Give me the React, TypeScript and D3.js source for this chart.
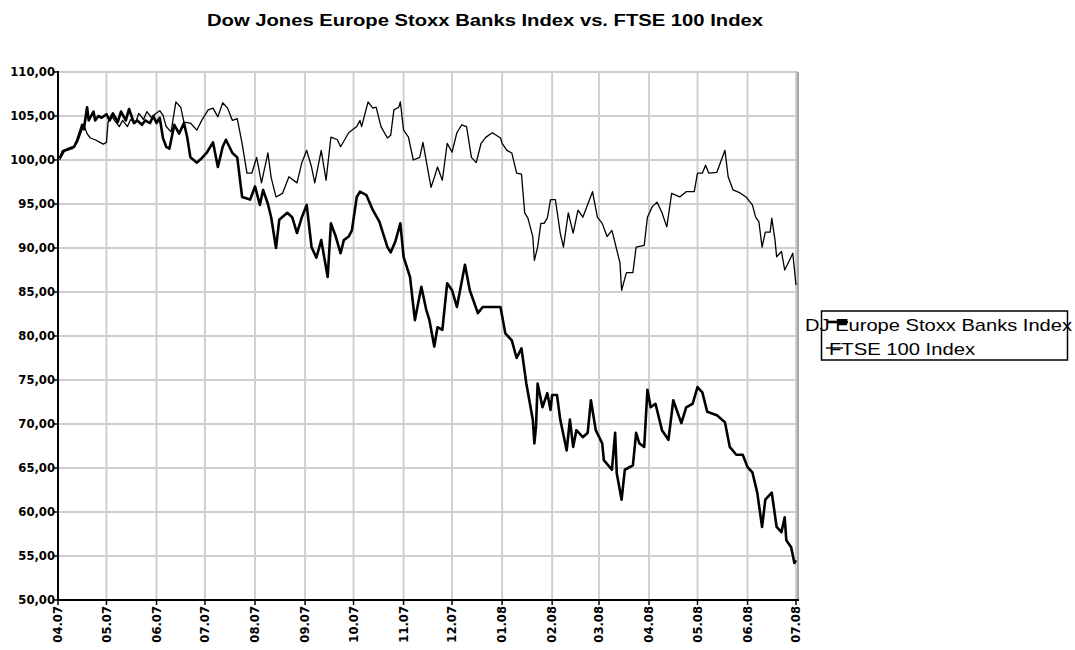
import React from "react";
import * as d3 from "d3";

const titleText = "Dow Jones Europe Stoxx Banks Index vs. FTSE 100 Index";
const seriesNames = ["DJ Europe Stoxx Banks Index", "FTSE 100 Index"];
const yTicks = [50, 55, 60, 65, 70, 75, 80, 85, 90, 95, 100, 105, 110];
const xStart = "2007-04-01";
const xEnd = "2008-07-01";

const djBanks: [string, number][] = [
  ["2007-04-02",100.2],["2007-04-04",101.0],["2007-04-08",101.3],["2007-04-11",101.5],["2007-04-13",102.3],["2007-04-16",104.0],["2007-04-17",103.5],["2007-04-19",106.0],["2007-04-20",104.5],["2007-04-23",105.5],["2007-04-24",104.5],["2007-04-26",105.0],["2007-04-28",104.8],
  ["2007-05-01",105.2],["2007-05-03",104.5],["2007-05-05",105.3],["2007-05-08",104.3],["2007-05-10",105.5],["2007-05-13",104.5],["2007-05-15",105.8],["2007-05-18",104.2],["2007-05-20",104.5],["2007-05-23",104.0],["2007-05-25",104.5],["2007-05-28",104.2],["2007-05-30",105.0],
  ["2007-06-01",104.2],["2007-06-03",104.8],["2007-06-05",102.5],["2007-06-07",101.5],["2007-06-09",101.3],["2007-06-12",104.0],["2007-06-15",103.0],["2007-06-18",104.2],["2007-06-20",102.6],["2007-06-22",100.3],["2007-06-26",99.7],["2007-06-29",100.2],
  ["2007-07-02",100.8],["2007-07-06",102.0],["2007-07-09",99.2],["2007-07-12",101.5],["2007-07-14",102.3],["2007-07-18",100.8],["2007-07-21",100.3],["2007-07-24",95.8],["2007-07-29",95.5],
  ["2007-08-01",97.0],["2007-08-04",94.9],["2007-08-06",96.6],["2007-08-09",95.0],["2007-08-11",93.5],["2007-08-14",90.0],["2007-08-16",93.2],["2007-08-21",94.0],["2007-08-24",93.5],["2007-08-27",91.7],["2007-08-30",93.5],
  ["2007-09-02",94.9],["2007-09-05",90.1],["2007-09-08",88.9],["2007-09-11",90.9],["2007-09-15",86.7],["2007-09-17",92.8],["2007-09-20",91.3],["2007-09-23",89.4],["2007-09-25",90.9],["2007-09-28",91.3],["2007-09-30",92.0],
  ["2007-10-03",95.8],["2007-10-05",96.4],["2007-10-09",96.0],["2007-10-13",94.3],["2007-10-17",93.0],["2007-10-22",90.1],["2007-10-24",89.5],["2007-10-27",90.8],["2007-10-30",92.8],
  ["2007-11-01",89.0],["2007-11-05",86.7],["2007-11-08",81.8],["2007-11-12",85.6],["2007-11-15",83.0],["2007-11-17",81.8],["2007-11-20",78.8],["2007-11-22",81.0],["2007-11-25",80.7],["2007-11-28",86.0],
  ["2007-12-01",85.2],["2007-12-04",83.3],["2007-12-09",88.1],["2007-12-12",85.2],["2007-12-17",82.6],["2007-12-20",83.3],["2007-12-26",83.3],["2007-12-31",83.3],
  ["2008-01-03",80.3],["2008-01-07",79.5],["2008-01-10",77.5],["2008-01-13",78.6],["2008-01-16",74.6],["2008-01-20",70.5],["2008-01-21",67.8],["2008-01-22",69.7],["2008-01-23",74.6],["2008-01-26",71.9],["2008-01-29",73.5],["2008-01-31",71.6],
  ["2008-02-01",73.3],["2008-02-04",73.3],["2008-02-06",70.5],["2008-02-10",67.0],["2008-02-12",70.5],["2008-02-14",67.4],["2008-02-16",69.3],["2008-02-20",68.5],["2008-02-23",69.0],["2008-02-25",72.7],["2008-02-28",69.3],
  ["2008-03-03",67.8],["2008-03-04",65.9],["2008-03-09",64.8],["2008-03-11",69.0],["2008-03-12",64.4],["2008-03-15",61.4],["2008-03-17",64.8],["2008-03-22",65.3],["2008-03-24",69.0],["2008-03-26",67.8],["2008-03-29",67.4],["2008-03-31",73.9],
  ["2008-04-02",71.9],["2008-04-05",72.3],["2008-04-09",69.3],["2008-04-13",68.2],["2008-04-16",72.7],["2008-04-21",70.1],["2008-04-24",71.9],["2008-04-28",72.3],
  ["2008-05-01",74.2],["2008-05-04",73.6],["2008-05-07",71.4],["2008-05-13",71.0],["2008-05-18",70.2],["2008-05-21",67.4],["2008-05-25",66.5],["2008-05-29",66.5],
  ["2008-06-01",65.1],["2008-06-04",64.5],["2008-06-07",62.2],["2008-06-10",58.3],["2008-06-12",61.4],["2008-06-16",62.2],["2008-06-19",58.3],["2008-06-22",57.7],["2008-06-24",59.4],["2008-06-25",56.8],["2008-06-28",56.0],["2008-06-30",54.2],["2008-07-01",54.5]
];

const ftse100: [string, number][] = [
  ["2007-04-02",100.0],["2007-04-05",101.0],["2007-04-10",101.3],["2007-04-13",102.0],["2007-04-15",103.0],["2007-04-17",104.0],["2007-04-19",103.0],["2007-04-21",102.5],["2007-04-24",102.3],["2007-04-27",102.0],["2007-04-29",101.8],
  ["2007-05-01",102.0],["2007-05-02",104.3],["2007-05-04",105.1],["2007-05-06",104.5],["2007-05-09",103.8],["2007-05-11",104.5],["2007-05-14",103.8],["2007-05-16",104.6],["2007-05-19",104.2],["2007-05-21",105.3],["2007-05-24",104.6],["2007-05-26",105.5],["2007-05-29",104.8],["2007-05-31",105.2],
  ["2007-06-03",105.6],["2007-06-05",105.1],["2007-06-07",103.8],["2007-06-10",103.2],["2007-06-13",106.6],["2007-06-16",106.0],["2007-06-18",104.3],["2007-06-22",104.2],["2007-06-26",103.4],["2007-06-29",104.5],
  ["2007-07-03",105.7],["2007-07-06",105.9],["2007-07-09",104.9],["2007-07-12",106.5],["2007-07-15",105.9],["2007-07-18",104.5],["2007-07-21",104.7],["2007-07-24",101.9],["2007-07-27",98.5],["2007-07-30",98.5],
  ["2007-08-02",100.3],["2007-08-05",97.4],["2007-08-09",100.8],["2007-08-11",98.0],["2007-08-14",95.8],["2007-08-18",96.2],["2007-08-22",98.1],["2007-08-27",97.4],["2007-08-30",99.7],
  ["2007-09-02",101.1],["2007-09-05",99.2],["2007-09-07",97.4],["2007-09-11",101.1],["2007-09-14",97.7],["2007-09-17",102.6],["2007-09-21",102.3],["2007-09-23",101.5],["2007-09-28",103.1],
  ["2007-10-03",103.8],["2007-10-05",104.5],["2007-10-06",103.8],["2007-10-10",106.6],["2007-10-13",105.9],["2007-10-15",106.0],["2007-10-18",103.8],["2007-10-22",102.5],["2007-10-24",102.8],["2007-10-26",105.7],["2007-10-29",106.0],["2007-10-30",106.6],
  ["2007-11-01",103.4],["2007-11-04",102.6],["2007-11-07",100.0],["2007-11-11",100.3],["2007-11-13",102.0],["2007-11-16",98.9],["2007-11-18",96.9],["2007-11-20",98.0],["2007-11-22",99.2],["2007-11-25",97.7],["2007-11-28",101.9],
  ["2007-12-01",100.9],["2007-12-04",103.1],["2007-12-07",104.0],["2007-12-10",103.8],["2007-12-13",100.3],["2007-12-16",99.7],["2007-12-19",101.9],["2007-12-22",102.6],["2007-12-26",103.1],["2007-12-31",102.5],
  ["2008-01-01",101.9],["2008-01-04",101.1],["2008-01-07",100.8],["2008-01-10",98.5],["2008-01-13",98.4],["2008-01-15",94.0],["2008-01-17",93.4],["2008-01-20",91.3],["2008-01-21",88.6],["2008-01-23",90.1],["2008-01-25",92.8],["2008-01-27",92.8],["2008-01-29",93.4],["2008-01-31",95.5],
  ["2008-02-03",95.5],["2008-02-06",91.7],["2008-02-08",90.1],["2008-02-11",94.0],["2008-02-14",91.7],["2008-02-17",94.3],["2008-02-20",93.5],["2008-02-26",96.4],["2008-02-29",93.5],
  ["2008-03-03",92.8],["2008-03-06",91.3],["2008-03-09",92.0],["2008-03-12",89.8],["2008-03-14",88.3],["2008-03-15",85.2],["2008-03-18",87.2],["2008-03-22",87.2],["2008-03-24",90.1],["2008-03-29",90.3],["2008-03-31",93.5],
  ["2008-04-03",94.7],["2008-04-06",95.2],["2008-04-09",94.0],["2008-04-12",92.4],["2008-04-15",96.2],["2008-04-20",95.8],["2008-04-24",96.4],["2008-04-29",96.4],
  ["2008-05-01",98.5],["2008-05-04",98.5],["2008-05-06",99.4],["2008-05-08",98.5],["2008-05-13",98.6],["2008-05-18",101.1],["2008-05-20",98.1],["2008-05-23",96.6],["2008-05-27",96.3],["2008-05-31",95.8],
  ["2008-06-04",94.9],["2008-06-06",93.5],["2008-06-08",93.0],["2008-06-10",90.1],["2008-06-12",91.8],["2008-06-15",91.8],["2008-06-16",93.4],["2008-06-18",90.9],["2008-06-19",89.0],["2008-06-22",89.6],["2008-06-24",87.5],["2008-06-27",88.6],["2008-06-29",89.4],["2008-07-01",85.8]
];

const parse = d3.timeParse("%Y-%m-%d");

export default function App() {
  const W = 1075, H = 650;
  const left = 58, right = 796, top = 72, bottom = 600;
  const x = d3.scaleTime().domain([parse(xStart)!, parse(xEnd)!]).range([left, right]);
  const y = d3.scaleLinear().domain([50, 110]).range([bottom, top]);
  const months = d3.timeMonth.range(parse(xStart)!, d3.timeDay.offset(parse(xEnd)!, 1));
  const fmtX = d3.timeFormat("%m.%y");
  const fmtY = (v: number) => v.toFixed(2).replace(".", ",");
  const line = d3.line<[string, number]>().x(d => x(parse(d[0])!)).y(d => y(d[1]));
  const tickFont = "'DejaVu Sans', Verdana, sans-serif";
  const gridColor = "#cfcfcf";

  return (
    <svg width={W} height={H} style={{ position: "absolute", left: 0, top: 0, background: "#fff" }}>
      <rect x={0} y={0} width={W} height={H} fill="#fff" />
      <text x={207} y={26} textLength={556} lengthAdjust="spacingAndGlyphs"
        fontFamily="'Liberation Sans', Arial, sans-serif" fontWeight="bold" fontSize={16} fill="#000">{titleText}</text>

      {/* grid */}
      {yTicks.map(v => (
        <line key={"gy" + v} x1={left} x2={right + 2} y1={y(v)} y2={y(v)} stroke={gridColor} strokeWidth={2} />
      ))}
      {months.map((m, i) => (
        <line key={"gx" + i} x1={x(m)} x2={x(m)} y1={top} y2={bottom} stroke={gridColor} strokeWidth={2} />
      ))}
      <line x1={right + 2} x2={right + 2} y1={top} y2={bottom} stroke="#8a8a8a" strokeWidth={1.5} />

      {/* series */}
      <path d={line(ftse100)!} fill="none" stroke="#000" strokeWidth={1.3} strokeLinejoin="round" />
      <path d={line(djBanks)!} fill="none" stroke="#000" strokeWidth={2.6} strokeLinejoin="round" />

      {/* axes */}
      <line x1={left} x2={left} y1={top - 1} y2={bottom + 1} stroke="#000" strokeWidth={2} />
      <line x1={left - 1} x2={right + 3} y1={bottom} y2={bottom} stroke="#000" strokeWidth={2} />
      {yTicks.map(v => (
        <g key={"ty" + v}>
          <line x1={left - 5} x2={left} y1={y(v)} y2={y(v)} stroke="#000" strokeWidth={1.5} />
          <text x={55} y={y(v)} dy="0.36em" textAnchor="end" fontFamily={tickFont} fontWeight="bold" fontSize={11.6} fill="#000">{fmtY(v)}</text>
        </g>
      ))}
      {months.map((m, i) => (
        <g key={"tx" + i}>
          <line x1={x(m)} x2={x(m)} y1={bottom} y2={bottom + 5} stroke="#000" strokeWidth={1.5} />
          <text transform={`translate(${x(m)},${bottom + 6}) rotate(-90)`} dy="0.36em" textAnchor="end"
            fontFamily={tickFont} fontWeight="bold" fontSize={11.6} fill="#000">{fmtX(m)}</text>
        </g>
      ))}

      {/* legend */}
      <rect x={821.5} y={311} width={246} height={49} fill="none" stroke="#000" strokeWidth={1.5} />
      <text x={805} y={331} textLength={267} lengthAdjust="spacingAndGlyphs"
        fontFamily="'Liberation Sans', Arial, sans-serif" fontSize={17} fill="#000">{seriesNames[0]}</text>
      <line x1={828} x2={848} y1={322} y2={322} stroke="#000" strokeWidth={2.6} />
      <rect x={838} y={319.5} width={9} height={5} fill="#000" />
      <text x={829} y={355} textLength={146} lengthAdjust="spacingAndGlyphs"
        fontFamily="'Liberation Sans', Arial, sans-serif" fontSize={17} fill="#000">{seriesNames[1]}</text>
      <line x1={826} x2={843} y1={348} y2={348} stroke="#000" strokeWidth={1.4} />
    </svg>
  );
}
